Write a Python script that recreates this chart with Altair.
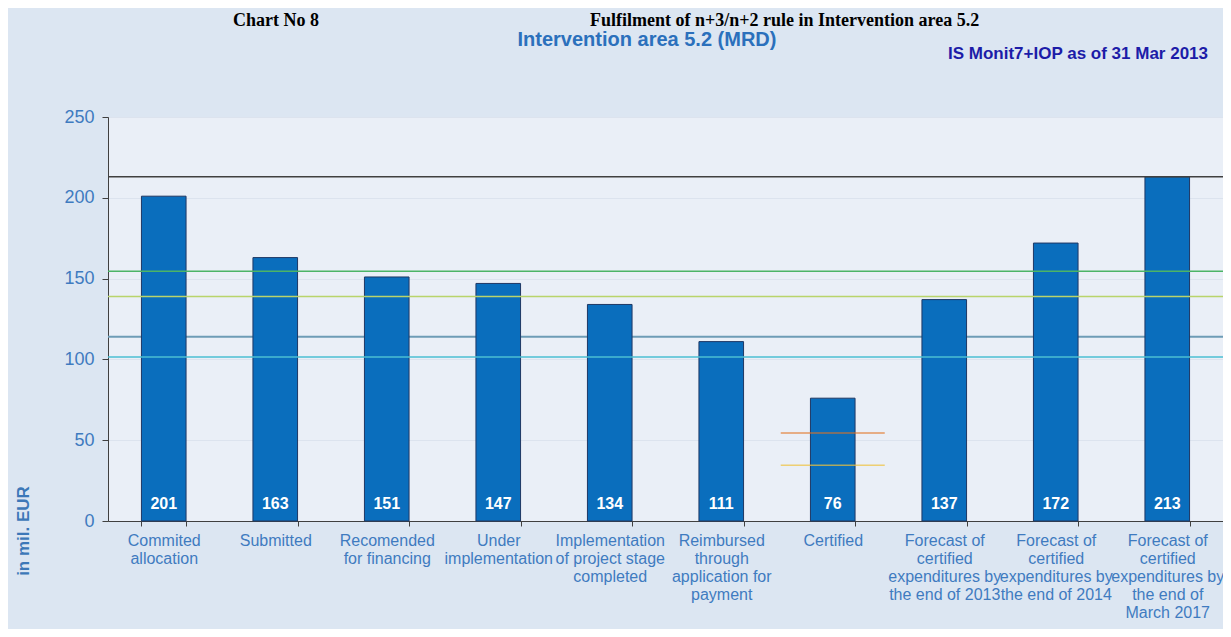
import altair as alt
import pandas as pd

# ---- data ----
categories = [
    "Commited|allocation",
    "Submitted",
    "Recomended|for financing",
    "Under|implementation",
    "Implementation|of project stage|completed",
    "Reimbursed|through|application for|payment",
    "Certified",
    "Forecast of|certified|expenditures by|the end of 2013",
    "Forecast of|certified|expenditures by|the end of 2014",
    "Forecast of|certified|expenditures by|the end of|March 2017",
]
values = [201, 163, 151, 147, 134, 111, 76, 137, 172, 213]

back_levels = [114]
back_colors = ["#6E9CB6"]
front_levels = [213, 154.5, 139, 101.5]
front_colors = ["#404040", "#4CB467", "#B9D46B", "#4BBFD3"]

cert_category = ["Certified", "Certified"]
cert_levels = [54.5, 34.5]
cert_colors = ["#E2731F", "#EFC23A"]

y_ticks = [0, 50, 100, 150, 200, 250]

header_left = "Chart No 8"
header_right = "Fulfilment of n+3/n+2 rule in Intervention area 5.2"
title_text = "Intervention area 5.2 (MRD)"
source_text = "IS Monit7+IOP  as of 31 Mar 2013"
y_title = "in mil. EUR"

# ---- tables ----
bars_df = pd.DataFrame({"cat": categories, "value": values})
back_df = pd.DataFrame({"v": back_levels, "c": back_colors})
front_df = pd.DataFrame({"v": front_levels, "c": front_colors})
cert_df = pd.DataFrame({"cat": cert_category, "v": cert_levels, "c": cert_colors})

FONT = "Liberation Sans"
W, H = 1115, 404

x_enc = alt.X(
    "cat:N",
    sort=categories,
    scale=alt.Scale(domain=categories, paddingInner=0.6, paddingOuter=0.3),
    axis=alt.Axis(
        title=None,
        labelAngle=0,
        labelExpr="split(datum.label, '|')",
        labelColor="#3F7BC0",
        labelFont=FONT,
        labelFontSize=16,
        labelLineHeight=18,
        labelBaseline="top",
        labelPadding=6,
        labelOverlap=False,
        labelLimit=0,
        tickBand="extent",
        tickSize=5,
        tickColor="#404040",
        domainColor="#404040",
        grid=False,
    ),
)
y_scale = alt.Scale(domain=[0, 250], nice=False)

y_axis = alt.Axis(
    title=None,
    values=y_ticks,
    labelColor="#3F7BC0",
    labelFont=FONT,
    labelFontSize=18,
    labelPadding=8,
    tickSize=6,
    tickColor="#404040",
    domainColor="#404040",
    grid=True,
    gridColor="#DCE3EE",
)

back_rules = alt.Chart(back_df).mark_rule(strokeWidth=2).encode(
    y=alt.Y("v:Q", scale=y_scale, axis=y_axis),
    color=alt.Color("c:N", scale=None),
)

bars = alt.Chart(bars_df).mark_bar(color="#0A6EBD", stroke="#1F3864", strokeWidth=1).encode(
    x=x_enc,
    y=alt.Y("value:Q", scale=y_scale, axis=y_axis),
)

front_rules = alt.Chart(front_df).mark_rule(strokeWidth=1.5).encode(
    y=alt.Y("v:Q", scale=y_scale),
    color=alt.Color("c:N", scale=None),
)

cert_ticks = alt.Chart(cert_df).mark_tick(orient="horizontal", size=104, thickness=1.5).encode(
    x=alt.X("cat:N", sort=categories),
    y=alt.Y("v:Q", scale=y_scale),
    color=alt.Color("c:N", scale=None),
)

bar_labels = alt.Chart(bars_df).mark_text(
    color="white", font=FONT, fontSize=16, fontWeight="bold", baseline="middle", dy=-17
).encode(
    x=alt.X("cat:N", sort=categories),
    y=alt.datum(0, scale=y_scale),
    text=alt.Text("value:Q", format=".0f"),
)

def note(txt, x, y, **kw):
    return alt.Chart(pd.DataFrame({"t": [txt]})).mark_text(**kw).encode(
        x=alt.value(x), y=alt.value(y), text="t:N"
    )

header1 = note(header_left, 125, -91, font="Liberation Serif", fontSize=18,
               fontWeight="bold", color="black", align="left", baseline="alphabetic")
header2 = note(header_right, 482, -91, font="Liberation Serif", fontSize=18,
               fontWeight="bold", color="black", align="left", baseline="alphabetic")
title = note(title_text, 539, -71, font=FONT, fontSize=20, fontWeight="bold",
             color="#2B70BC", align="center", baseline="alphabetic")
source = note(source_text, 1100, -58, font=FONT, fontSize=17, fontWeight="bold",
              color="#1C1CA8", align="right", baseline="alphabetic")
ytitle = note(y_title, -84, 414, font=FONT, fontSize=17, fontWeight="bold",
              color="#3C78B8", align="center", baseline="middle", angle=270)

chart = alt.layer(
    back_rules, bars, front_rules, cert_ticks, bar_labels,
    header1, header2, title, source, ytitle,
).properties(
    width=W,
    height=H,
    autosize=alt.AutoSizeParams(type="none"),
    padding={"left": 100, "top": 109, "right": 0, "bottom": 108},
    background="#DCE6F2",
).configure_view(
    fill="#EAEFF7", stroke="#8C8C8C", strokeWidth=1
)

chart.save("out.html", embed_options={"renderer": "svg", "actions": False})
